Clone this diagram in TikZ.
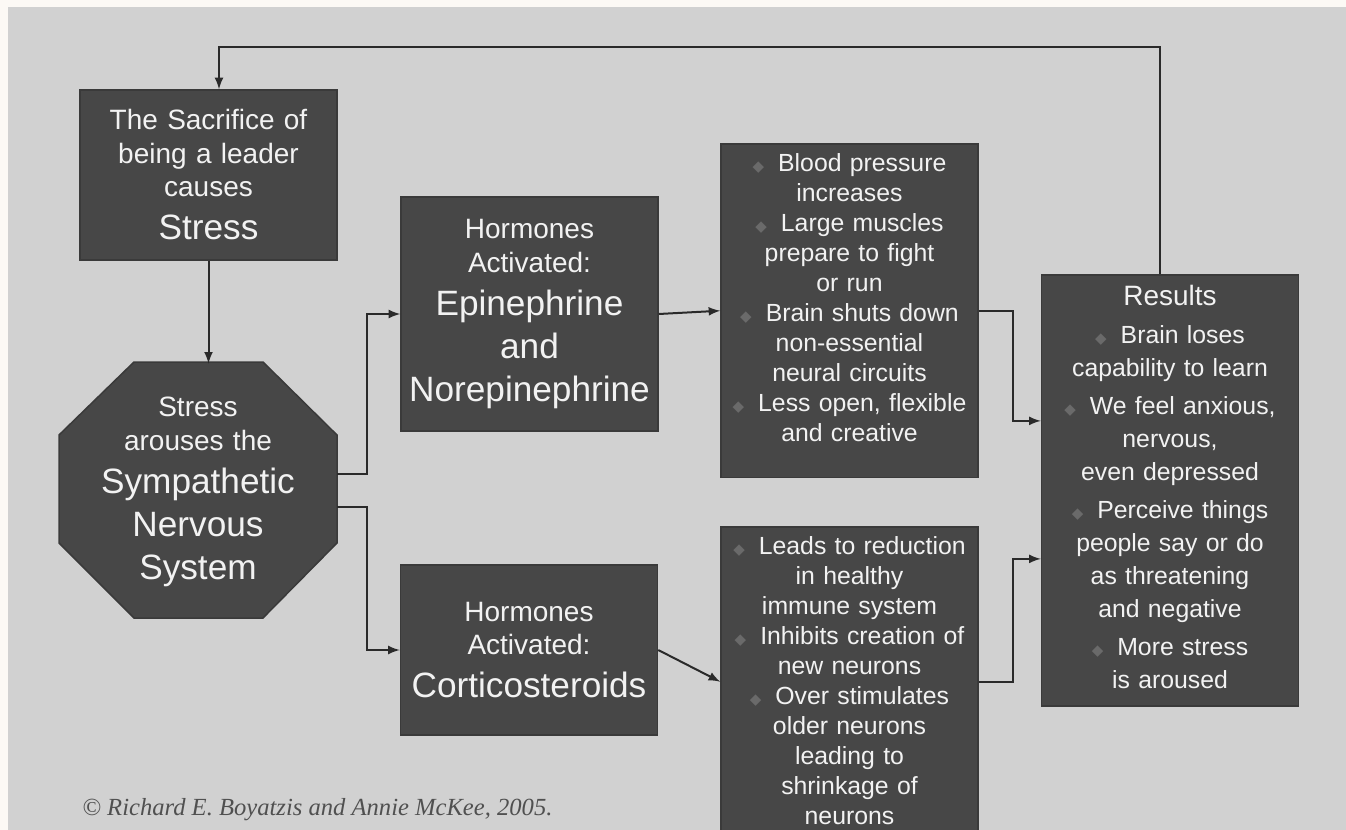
\documentclass[tikz,border=0pt]{standalone}
\usepackage{fontspec}
\setmainfont{Liberation Sans}
\newfontfamily\bulfont{DejaVu Sans}
\newfontfamily\credfont{Liberation Serif}
\usetikzlibrary{shapes,arrows}

\definecolor{pagebg}{HTML}{FCF9F5}
\definecolor{panelgrey}{HTML}{D1D1D1}
\definecolor{boxfill}{HTML}{474747}
\definecolor{boxedge}{HTML}{3A3A3A}
\definecolor{boxtext}{HTML}{F2F2F2}
\definecolor{bulgrey}{HTML}{6A6A6A}
\definecolor{linecol}{HTML}{2A2A2A}
\definecolor{credgrey}{HTML}{505050}

\newcommand{\smtxt}{\fontsize{14}{16.75}\selectfont}
\newcommand{\bigtxt}{\fontsize{17.6}{21.5}\selectfont}
\newcommand{\bultxt}{\fontsize{12.4}{15}\selectfont}
\newcommand{\bul}{{\bulfont\fontsize{7.5}{7.5}\selectfont\color{bulgrey}◆}\hspace{7pt}}

\tikzset{
  darkfill/.style={fill=boxfill, draw=boxedge, line width=0.75pt},
  box/.style={darkfill, rectangle, text=boxtext, align=center, text width=124pt,
    inner xsep=2pt, minimum width=128.5pt},
  topbox/.style={box, anchor=north, inner ysep=5pt, font=\bultxt},
  link/.style={draw=linecol, line width=1pt, -latex}
}

\begin{document}
\begin{tikzpicture}[x=0.5pt,y=-0.5pt]
    % Page and grey panel
    \useasboundingbox (0,0) rectangle (1346,830);
    \clip (0,0) rectangle (1346,830);
    \fill[pagebg] (0,0) rectangle (1346,830);
    \fill[panelgrey] (8,7) rectangle (1346,830);

    % Cause
    \node[box, font=\smtxt, minimum height=85pt] (cause) at (208.5,175)
        {The Sacrifice of\\ being a leader\\ causes\par{\bigtxt Stress\par}};

    % Octagon
    \filldraw[darkfill] (134,362) -- (263,362) -- (337,435) -- (337,543)
        -- (263,618) -- (134,618) -- (59,543) -- (59,435) -- cycle;
    \node[text=boxtext, align=center, text width=130pt, font=\smtxt,
        minimum width=139pt, minimum height=128pt, inner sep=0pt] (sns) at (198,492)
        {Stress\\ arouses the\par{\bigtxt Sympathetic\\ Nervous\\ System\par}};

    % Hormones
    \node[box, font=\smtxt, minimum height=117pt] (hormA) at (529.5,314)
        {Hormones\\ Activated:\par{\bigtxt Epinephrine\\ and\\ Norepinephrine\par}};
    \node[box, font=\smtxt, minimum height=85pt] (hormB) at (529,650)
        {Hormones\\ Activated:\par{\bigtxt Corticosteroids\par}};

    % Effects
    \node[topbox, text depth=148pt] (effA) at (849.5,143)
        {\bul Blood pressure\\ increases\par
         \bul Large muscles\\ prepare to fight\\ or run\par
         \bul Brain shuts down\\ non-essential\\ neural circuits\par
         \bul Less open, flexible\\ and creative\par};
    \node[topbox, text depth=136pt] (effB) at (849.5,526)
        {\bul Leads to reduction\\ in healthy\\ immune system\par
         \bul Inhibits creation of\\ new neurons\par
         \bul Over stimulates\\ older neurons\\ leading to\\ shrinkage of\\ neurons\par};

    % Results
    \node[topbox, font=\fontsize{12.4}{16.5}\selectfont, text depth=195.5pt] (res) at (1170,274)
        {\setlength{\parskip}{2.5pt}{\smtxt Results\par}
         \bul Brain loses\\ capability to learn\par
         \bul We feel anxious,\\ nervous,\\ even depressed\par
         \bul Perceive things\\ people say or do\\ as threatening\\ and negative\par
         \bul More stress\\ is aroused\par};

    % Connectors
    \draw[link] (cause.south) -- (cause.south |- sns.north);
    \draw[link] ([yshift=9pt]sns.east) -- ++(30,0) |- (hormA.west);
    \draw[link] ([yshift=-7.5pt]sns.east) -- ++(30,0) |- (hormB.west);
    \draw[link] (hormA.east) -- (effA.west);
    \draw[link] (hormB.east) -- (effB.west);
    \draw[link] (effA.east) -- ++(34,0) |- ([yshift=34.75pt]res.west);
    \draw[link] (effB.east) -- ++(34,0) |- ([yshift=-34.25pt]res.west);
    \draw[link] ([xshift=-5pt]res.north) -- ++(0,-227) -| ([xshift=5.25pt]cause.north);

    % Credit line
    \node[font=\credfont\itshape\fontsize{12.3}{14}\selectfont, text=credgrey,
        anchor=base west, inner sep=0pt] (credit) at (82,815)
        {© Richard E. Boyatzis and Annie McKee, 2005.};
\end{tikzpicture}
\end{document}
